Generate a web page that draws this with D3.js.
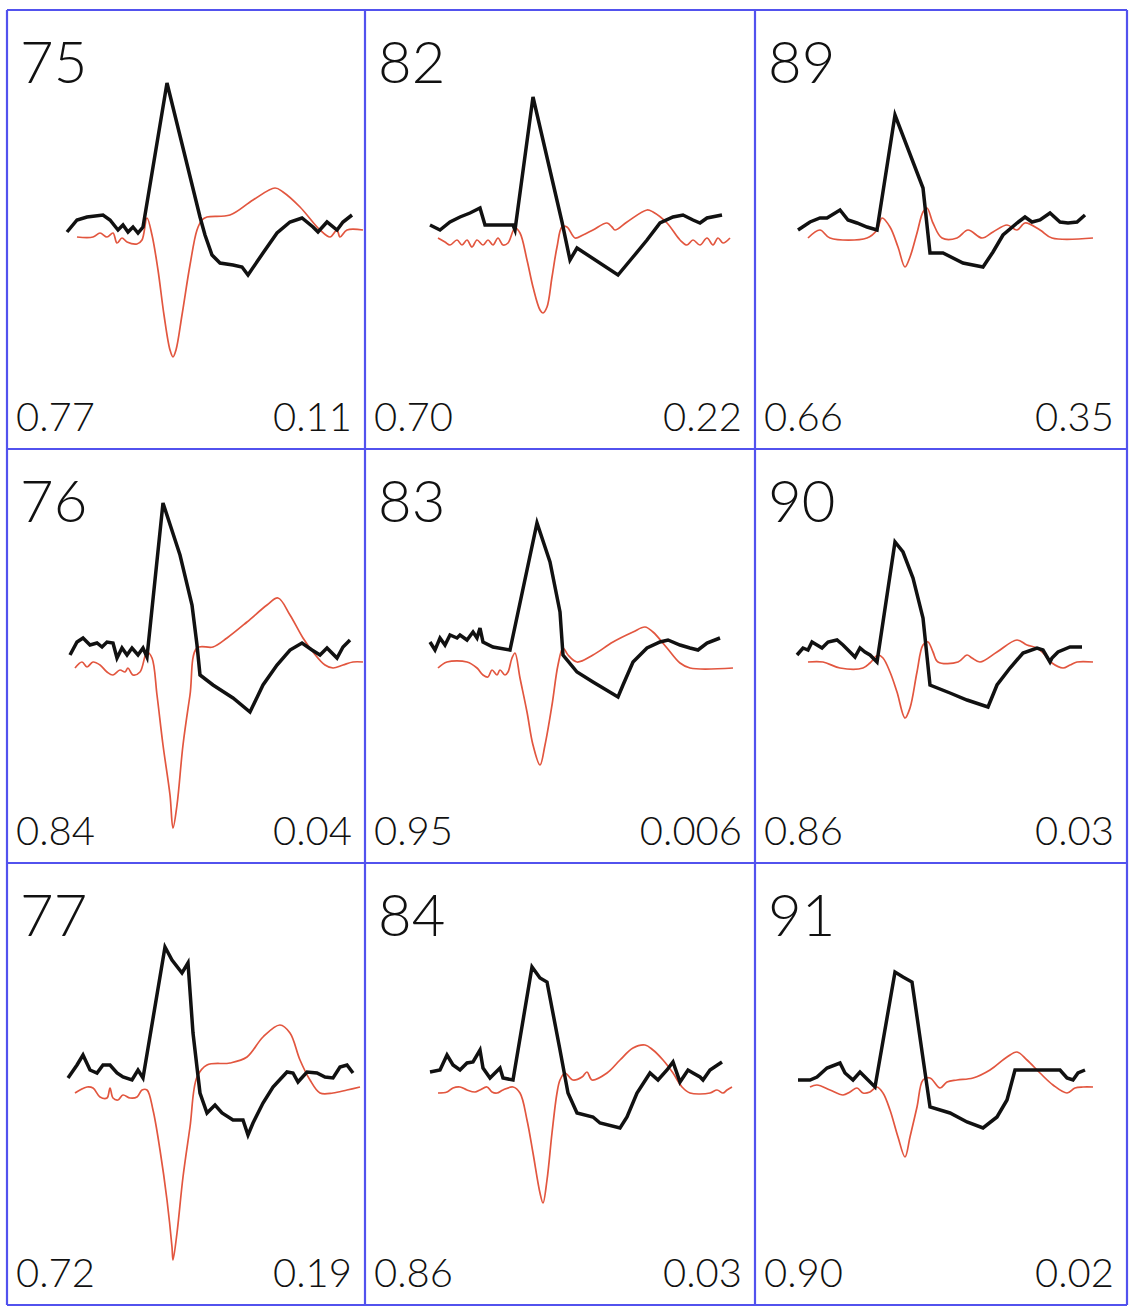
<!DOCTYPE html>
<html lang="en">
<head>
<meta charset="UTF-8">
<title>Unit waveforms</title>
<script src="https://d3js.org/d3.v7.min.js"></script>
<style>
  body { margin: 0; background: #fff; }
  text { font-family: "Lato", "DejaVu Sans", sans-serif; font-weight: 300; fill: #111; }
</style>
</head>
<body>
<div id="chart"></div>
<script>
// unit numbers, column by column
const units = [75, 76, 77, 82, 83, 84, 89, 90, 91];
const leftValues = ["0.77", "0.84", "0.72", "0.70", "0.95", "0.86", "0.66", "0.86", "0.90"];
const rightValues = ["0.11", "0.04", "0.19", "0.22", "0.006", "0.03", "0.35", "0.03", "0.02"];

// waveforms: [time (0.1 ms steps), amplitude (uV)]
const black75 = [[6.0,3],[7.0,15],[8.0,18],[9.6,20],[10.3,15],[11.1,5],[11.6,10],[12.1,3],[12.6,8],[13.1,2],[13.6,8],[16.0,152],[19.3,18],[19.8,0],[20.5,-20],[21.3,-28],[22.6,-30],[23.5,-32],[24.1,-40],[25.6,-18],[27.0,2],[28.3,13],[29.5,17],[30.6,8],[31.1,3],[32.0,13],[33.0,5],[33.6,13],[34.5,20]];
const red75 = [[7.0,-2],[8.6,-2],[9.3,2],[10.0,-2],[10.6,2],[11.0,-8],[11.5,-3],[12.0,-7],[13.0,-9],[13.5,-5],[14.0,17],[14.5,0],[15.1,-35],[15.7,-80],[16.3,-115],[16.6,-122],[16.9,-115],[17.5,-80],[18.3,-30],[19.0,5],[19.5,15],[20.0,18],[22.3,20],[24.6,35],[26.8,47],[27.6,43],[29.3,28],[31.3,5],[32.3,-2],[33.0,5],[33.3,-2],[34.0,5],[35.6,5]];

const black76 = [[6.3,19],[7.0,32],[7.6,36],[8.3,29],[9.0,31],[9.5,27],[10.0,32],[10.6,31],[11.0,16],[11.5,26],[12.0,19],[12.5,26],[13.1,19],[13.6,26],[14.0,17],[15.6,171],[17.3,119],[18.5,69],[19.0,29],[19.3,-1],[20.6,-11],[22.6,-24],[24.3,-38],[25.6,-11],[27.0,9],[28.3,24],[29.5,31],[30.5,24],[31.3,19],[32.0,26],[33.0,16],[33.6,27],[34.3,34]];
const red76 = [[6.8,6],[7.5,12],[8.0,7],[8.6,12],[9.3,9],[10.0,2],[10.6,-1],[11.3,4],[11.8,2],[12.1,6],[12.6,-1],[13.3,2],[14.0,22],[14.5,16],[15.0,-21],[15.6,-71],[16.3,-121],[16.6,-154],[17.0,-131],[17.6,-71],[18.3,-21],[19.0,26],[20.6,27],[22.0,36],[24.0,52],[26.0,69],[27.1,76],[28.3,59],[29.6,36],[30.6,22],[31.8,9],[32.6,6],[33.6,9],[34.6,12],[35.6,12]];

const black77 = [[6.1,10],[7.0,23],[7.6,33],[8.3,18],[9.0,15],[9.6,23],[10.3,23],[11.0,15],[11.6,11],[12.5,8],[13.1,18],[13.6,10],[15.8,141],[16.5,128],[17.5,115],[18.1,125],[18.6,55],[19.3,-5],[20.0,-25],[20.8,-17],[21.5,-25],[22.6,-32],[23.6,-32],[24.1,-47],[24.6,-35],[25.6,-15],[26.6,1],[28.0,16],[28.6,15],[29.1,6],[30.0,16],[31.0,15],[31.8,11],[32.6,10],[33.3,21],[34.0,23],[34.6,15]];
const red77 = [[6.8,-5],[7.3,-2],[8.0,1],[8.6,0],[9.3,-9],[10.0,-10],[10.3,0],[10.6,-10],[11.1,-12],[11.6,-7],[12.3,-10],[13.0,-9],[13.5,-2],[14.0,-2],[14.6,-22],[15.3,-62],[16.0,-112],[16.5,-159],[16.6,-172],[17.0,-145],[17.6,-89],[18.3,-39],[19.0,11],[20.0,23],[22.3,25],[24.0,31],[25.6,51],[27.3,63],[28.3,55],[29.3,28],[30.3,8],[31.3,-5],[32.6,-5],[34.0,-2],[35.3,1]];

const black82 = [[6.5,10],[7.5,5],[8.5,13],[9.5,18],[10.5,22],[11.5,27],[12.0,10],[13.5,10],[14.8,10],[15.0,5],[16.8,138],[19.7,13],[20.5,-25],[21.2,-13],[25.3,-40],[26.8,-22],[28.2,-5],[29.5,12],[30.8,18],[31.8,20],[32.8,15],[33.5,12],[34.2,17],[35.7,20]];
const red82 = [[7.3,-3],[8.0,-7],[8.5,-10],[9.2,-5],[9.7,-10],[10.2,-5],[10.7,-12],[11.2,-5],[11.8,-10],[12.3,-5],[12.8,-10],[13.3,-3],[13.8,-10],[14.3,-8],[15.0,7],[15.5,2],[16.2,-25],[16.8,-52],[17.5,-75],[17.8,-78],[18.2,-72],[18.7,-42],[19.2,-12],[19.7,8],[20.2,8],[21.0,-3],[21.8,0],[22.8,5],[24.2,12],[24.7,8],[25.0,5],[26.2,13],[28.2,25],[28.8,23],[30.2,12],[31.5,-5],[32.2,-10],[32.8,-5],[33.5,-10],[34.2,-3],[34.8,-10],[35.3,-3],[35.8,-8],[36.5,-3]];

const black83 = [[6.5,32],[7.0,24],[7.5,36],[8.0,29],[8.5,39],[9.2,36],[9.5,39],[10.2,34],[10.8,42],[11.2,36],[11.5,46],[11.8,32],[12.8,27],[14.5,24],[17.2,151],[18.5,112],[19.5,62],[19.8,19],[21.2,2],[22.8,-8],[25.3,-23],[25.8,-11],[26.8,12],[28.2,26],[29.5,32],[30.3,34],[31.5,29],[32.5,26],[33.3,24],[34.2,31],[35.5,36]];
const red83 = [[7.3,6],[8.2,12],[10.2,12],[11.2,6],[11.8,-1],[12.3,-3],[12.7,4],[13.2,-1],[13.5,4],[14.0,-1],[14.3,2],[14.7,16],[15.0,21],[15.5,-4],[16.2,-38],[16.8,-71],[17.5,-91],[18.0,-71],[18.7,-31],[19.3,9],[19.8,26],[20.3,19],[21.2,12],[22.8,19],[24.8,32],[26.8,42],[28.0,47],[28.8,42],[30.2,26],[31.5,11],[32.5,6],[36.8,6]];

const black84 = [[6.5,16],[7.5,18],[8.2,33],[8.8,23],[9.5,18],[10.2,25],[10.8,26],[11.5,38],[11.8,20],[12.5,10],[13.0,15],[13.5,20],[13.8,10],[14.8,8],[16.7,121],[17.5,110],[18.2,106],[19.5,38],[20.3,-5],[21.2,-25],[22.8,-29],[23.5,-35],[25.5,-40],[26.2,-29],[27.2,-5],[28.5,15],[29.3,8],[30.2,18],[30.8,26],[31.5,6],[32.3,18],[32.8,15],[33.5,11],[33.8,8],[34.5,18],[35.7,26]];
const red84 = [[7.3,-5],[8.2,-4],[8.8,0],[9.5,1],[10.2,-2],[11.0,-4],[11.5,-2],[12.2,1],[12.7,-4],[13.2,-5],[13.8,-2],[14.8,1],[15.5,-5],[16.2,-32],[16.8,-65],[17.5,-105],[17.8,-115],[18.2,-92],[18.7,-45],[19.2,-5],[19.5,8],[20.0,15],[20.8,8],[21.7,11],[22.2,16],[22.7,8],[24.2,15],[25.5,28],[26.8,40],[28.0,43],[28.8,38],[29.8,28],[30.8,15],[31.7,1],[32.5,-5],[34.5,-5],[35.2,-2],[35.8,-5],[36.2,-2],[36.7,1]];

const black89 = [[4.3,5],[5.5,13],[6.5,17],[7.2,17],[8.5,25],[9.3,15],[10.2,12],[11.2,8],[12.2,5],[14.0,120],[16.8,47],[17.5,-18],[18.8,-18],[20.8,-28],[22.8,-32],[23.8,-17],[24.8,0],[26.2,12],[27.0,18],[27.7,13],[28.5,15],[29.5,22],[30.5,13],[31.3,12],[32.2,13],[33.0,20]];
const red89 = [[5.3,-3],[6.5,5],[7.5,-3],[11.2,-3],[12.2,5],[12.7,17],[13.5,8],[14.3,-12],[15.0,-32],[15.5,-22],[16.2,2],[16.8,23],[17.2,27],[17.8,12],[18.7,-3],[20.2,-3],[21.3,5],[22.7,-3],[23.8,3],[25.2,10],[26.2,5],[27.0,12],[28.5,5],[29.7,-3],[33.8,-3]];

const black90 = [[4.2,19],[4.8,26],[5.3,24],[5.7,32],[6.2,29],[6.7,26],[7.3,32],[8.2,34],[8.8,29],[9.5,22],[10.0,17],[10.5,26],[11.0,22],[11.5,19],[12.2,12],[14.0,132],[14.8,122],[15.8,96],[16.8,56],[17.5,-11],[19.5,-19],[21.2,-26],[23.3,-33],[24.2,-11],[25.5,6],[26.8,21],[28.2,26],[28.8,24],[29.5,12],[29.7,16],[30.3,22],[31.5,27],[32.7,27]];
const red90 = [[5.3,12],[6.8,12],[8.5,6],[10.8,6],[11.5,11],[12.3,19],[12.8,16],[13.5,2],[14.2,-18],[15.0,-44],[15.5,-34],[16.2,2],[16.8,29],[17.3,32],[17.8,22],[18.3,12],[20.3,12],[21.2,19],[21.7,16],[22.5,12],[24.2,22],[26.2,34],[27.2,29],[28.2,26],[28.8,21],[29.7,11],[30.8,6],[31.5,9],[32.2,12],[33.8,12]];

const black91 = [[4.3,8],[5.5,8],[6.2,11],[7.2,20],[8.5,25],[9.0,15],[9.8,8],[10.5,16],[11.0,11],[12.0,1],[14.0,116],[14.8,111],[15.7,106],[17.5,-19],[19.5,-25],[21.2,-34],[22.8,-40],[24.2,-29],[25.2,-12],[26.0,18],[27.8,18],[30.5,18],[31.2,10],[31.8,8],[32.3,15],[33.0,18]];
const red91 = [[5.5,1],[6.2,3],[7.5,-2],[8.8,-7],[9.5,-4],[10.2,0],[10.8,-5],[11.5,-4],[12.2,1],[12.8,-5],[13.5,-22],[14.3,-49],[15.0,-69],[15.5,-49],[16.2,-19],[16.8,8],[17.5,10],[18.5,0],[19.2,6],[20.2,8],[21.8,10],[23.5,18],[25.2,31],[26.2,36],[27.2,28],[28.5,15],[29.8,3],[31.2,-5],[32.0,0],[32.8,1],[33.8,1]];

const blackTraces = [black75, black76, black77, black82, black83, black84, black89, black90, black91];
const redTraces = [red75, red76, red77, red82, red83, red84, red89, red90, red91];

// layout
const W = 1131, H = 1311;
const colEdges = [7, 365, 755, 1127];
const rowEdges = [10, 449, 863, 1305];

const svg = d3.select("#chart").append("svg")
    .attr("width", W)
    .attr("height", H);

units.forEach((u, i) => {
    const col = Math.floor(i / 3);
    const row = i % 3;
    const left = colEdges[col], right = colEdges[col + 1];
    const top = rowEdges[row], bottom = rowEdges[row + 1];

    const x = d3.scaleLinear().domain([0, 36]).range([left, left + 360]);
    const y = d3.scaleLinear().domain([225, -225]).range([top, top + 450]);

    const g = svg.append("g").attr("class", "panel");

    const line = d3.line().x(d => x(d[0])).y(d => y(d[1]));

    g.append("path")
        .datum(redTraces[i])
        .attr("d", line.curve(d3.curveCatmullRom.alpha(0.5)))
        .attr("fill", "none")
        .attr("stroke", "#e2563f")
        .attr("stroke-width", 1.7)
        .attr("stroke-linejoin", "round");

    g.append("path")
        .datum(blackTraces[i])
        .attr("d", d3.line().x(d => x(d[0])).y(d => y(d[1])))
        .attr("fill", "none")
        .attr("stroke", "#111")
        .attr("stroke-width", 3.5)
        .attr("stroke-linejoin", "miter")
        .attr("stroke-miterlimit", 4);

    g.append("text")
        .attr("x", left + 13)
        .attr("y", top + 73)
        .attr("font-size", 58)
        .text(u);

    g.append("text")
        .attr("x", left + 9)
        .attr("y", bottom - 18)
        .attr("font-size", 40)
        .text(leftValues[i]);

    g.append("text")
        .attr("x", right - 13)
        .attr("y", bottom - 18)
        .attr("font-size", 40)
        .attr("text-anchor", "end")
        .text(rightValues[i]);
});

// blue grid
const grid = svg.append("g").attr("stroke", "#5252ee").attr("stroke-width", 2.2);
colEdges.forEach(cx => {
    grid.append("line").attr("x1", cx).attr("x2", cx)
        .attr("y1", rowEdges[0]).attr("y2", rowEdges[3]);
});
rowEdges.forEach(ry => {
    grid.append("line").attr("x1", colEdges[0]).attr("x2", colEdges[3])
        .attr("y1", ry).attr("y2", ry);
});
</script>
</body>
</html>
